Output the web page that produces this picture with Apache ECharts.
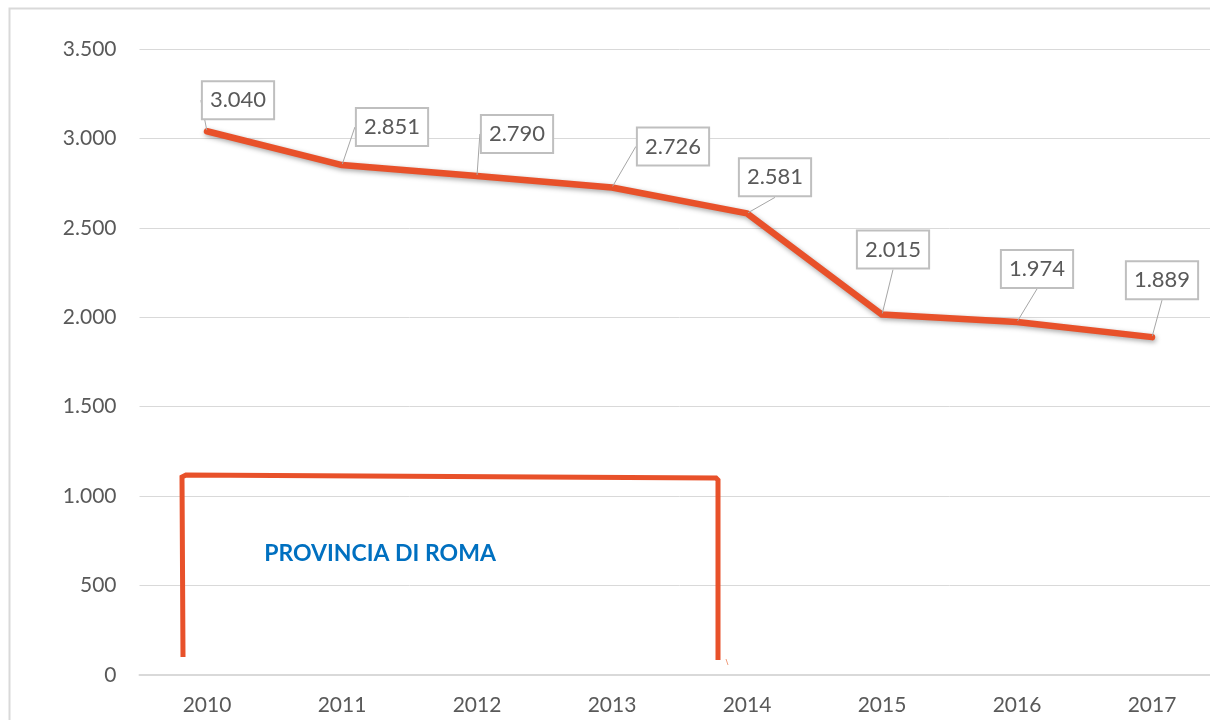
<!DOCTYPE html>
<html>
<head>
<meta charset="utf-8">
<script src="https://cdn.jsdelivr.net/npm/echarts@6/dist/echarts.min.js"></script>
<style>
  html, body { margin: 0; padding: 0; background: #fff; overflow: hidden; width: 1210px; height: 720px; }
  #chart { width: 1230px; height: 720px; }
</style>
</head>
<body>
<div id="chart"></div>
<script>
// ---- data ----
const years = ['2010', '2011', '2012', '2013', '2014', '2015', '2016', '2017'];
const values = [3040, 2851, 2790, 2726, 2581, 2015, 1974, 1889];
const yTicks = [0, 500, 1000, 1500, 2000, 2500, 3000, 3500];
const annotationText = 'PROVINCIA DI ROMA';

// ---- helpers ----
function fmtIt(v) {
  return String(v).replace(/\B(?=(\d{3})+(?!\d))/g, '.');
}

// label offsets (layout only)
const labelShift = [[31, -31], [50, -38], [40, -42], [61, -41], [28, -36], [11, -65], [20, -53], [10, -57]];

const RED = '#E8512A';
const FONT = 'Lato, "Open Sans", sans-serif';

const chart = echarts.init(document.getElementById('chart'), null, { renderer: 'canvas' });

const option = {
  animation: false,
  backgroundColor: '#ffffff',
  grid: { left: 139.5, right: 10.5, top: 49, bottom: 45, containLabel: false },
  xAxis: {
    type: 'category',
    data: years,
    boundaryGap: true,
    axisLine: { show: true, lineStyle: { color: '#d9d9d9', width: 2 } },
    axisTick: { show: false },
    axisLabel: { color: '#595959', fontSize: 21, fontFamily: FONT, margin: 20 },
    splitLine: { show: false }
  },
  yAxis: {
    type: 'value',
    min: yTicks[0],
    max: yTicks[yTicks.length - 1],
    interval: yTicks[1] - yTicks[0],
    axisLine: { show: false },
    axisTick: { show: false },
    axisLabel: { color: '#595959', fontSize: 21, fontFamily: FONT, margin: 23, formatter: fmtIt },
    splitLine: { show: true, lineStyle: { color: '#d9d9d9', width: 1 } }
  },
  series: [{
    type: 'line',
    data: values,
    symbol: 'circle',
    symbolSize: 2,
    showSymbol: true,
    itemStyle: { color: RED },
    lineStyle: {
      color: RED, width: 6.5, cap: 'round', join: 'round',
      shadowColor: 'rgba(0,0,0,0.35)', shadowBlur: 5, shadowOffsetY: 2, shadowOffsetX: 1
    },
    label: {
      show: true,
      position: 'inside',
      formatter: p => fmtIt(p.value),
      color: '#595959',
      fontSize: 22,
      fontFamily: FONT,
      backgroundColor: '#ffffff',
      borderColor: '#bfbfbf',
      borderWidth: 2,
      padding: [8, 7, 6, 7]
    },
    labelLine: { show: true, lineStyle: { color: '#a6a6a6', width: 1 } },
    labelLayout: function (params) {
      const s = labelShift[params.dataIndex];
      return { dx: s[0], dy: s[1] };
    },
    z: 3
  }],
  graphic: [
    { type: 'rect', left: 7, top: 6, z: 0, silent: true,
      shape: { width: 1400, height: 900 },
      style: { fill: 'none', stroke: '#d9d9d9', lineWidth: 2 } },
    { type: 'polyline', z: 10, silent: true,
      shape: { points: [[183, 657], [182, 477], [186, 475], [716, 478], [718, 480], [718, 660]] },
      style: { fill: 'none', stroke: RED, lineWidth: 5, lineJoin: 'miter' } },
    { type: 'line', z: 10, silent: true,
      shape: { x1: 726, y1: 659, x2: 728, y2: 665 },
      style: { stroke: '#f0a080', lineWidth: 1 } },
    { type: 'text', z: 10, silent: true,
      style: { x: 380, y: 554, text: annotationText, fill: '#0070C0',
        font: 'bold 23px ' + FONT, textAlign: 'center', textVerticalAlign: 'middle' } }
  ]
};

chart.setOption(option);
</script>
</body>
</html>
